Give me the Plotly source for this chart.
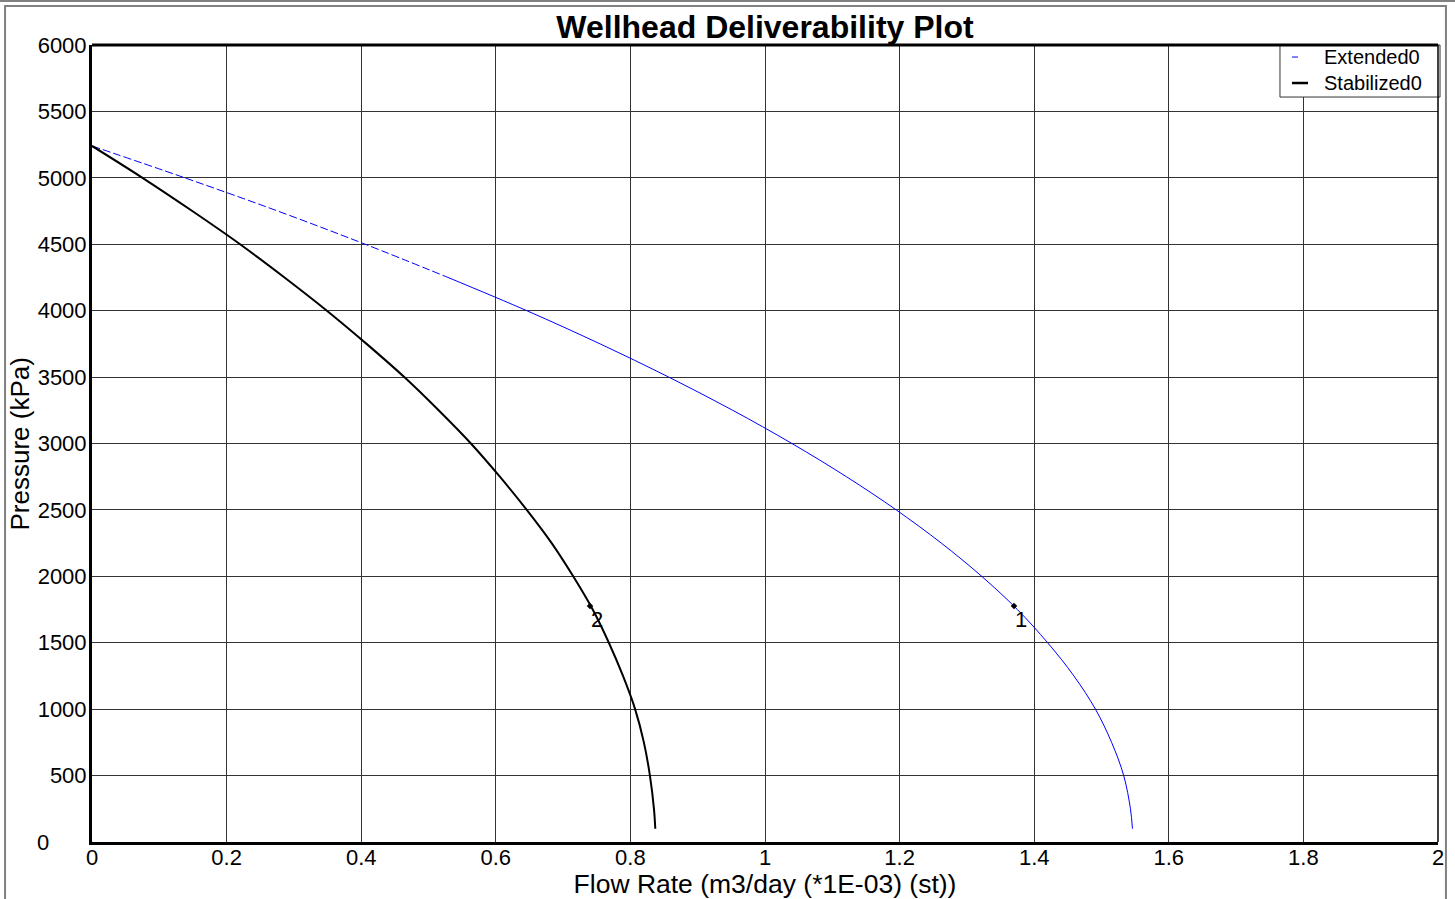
import plotly.graph_objects as go

pressure = [5240, 5000, 4750, 4500, 4250, 4000, 3750, 3500, 3250, 3000, 2750,
            2500, 2250, 2000, 1750, 1500, 1250, 1000, 750, 500, 250, 100]
# Stabilized0 flow rate (m3/day *1E-03)
stabilized_q = [0, 0.075, 0.149, 0.220, 0.286, 0.349, 0.408, 0.464, 0.515, 0.563, 0.606,
                0.646, 0.683, 0.715, 0.744, 0.768, 0.789, 0.807, 0.820, 0.829, 0.835, 0.837]
# Extended0 flow rate
extended_q = [0, 0.138, 0.276, 0.406, 0.529, 0.646, 0.755, 0.857, 0.952, 1.040, 1.121,
              1.195, 1.262, 1.322, 1.375, 1.420, 1.459, 1.491, 1.515, 1.533, 1.543, 1.546]

# Test points
point_q = [1.370, 0.740]
point_p = [1777, 1777]
point_labels = ["1", "2"]

series_names = ["Extended0", "Stabilized0"]
series_colors = ["#0000ff", "black"]

x_ticks = [0, 0.2, 0.4, 0.6, 0.8, 1, 1.2, 1.4, 1.6, 1.8, 2]
x_tick_labels = ["0", "0.2", "0.4", "0.6", "0.8", "1", "1.2", "1.4", "1.6", "1.8", "2"]
y_ticks = list(range(0, 6001, 500))
y_tick_labels = [""] + [str(v) for v in y_ticks[1:]]

FONT = "Liberation Sans, Arial, sans-serif"
split = 4  # index where dashed part of extended curve ends

fig = go.Figure()
fig.add_trace(go.Scatter(x=extended_q[:split + 1], y=pressure[:split + 1], mode="lines",
                         name=series_names[0], showlegend=False,
                         line=dict(color=series_colors[0], width=1, dash="8px,3px"),
                         line_shape="spline"))
fig.add_trace(go.Scatter(x=extended_q[split:], y=pressure[split:], mode="lines",
                         name=series_names[0], showlegend=False,
                         line=dict(color=series_colors[0], width=1), line_shape="spline"))
fig.add_trace(go.Scatter(x=stabilized_q, y=pressure, mode="lines", name=series_names[1],
                         showlegend=False,
                         line=dict(color=series_colors[1], width=2), line_shape="spline"))
fig.add_trace(go.Scatter(x=point_q, y=point_p, mode="markers", showlegend=False,
                         marker=dict(color="black", size=5, symbol="diamond")))
for q, p, t in zip(point_q, point_p, point_labels):
    fig.add_annotation(x=q, y=p, text=t, showarrow=False, xshift=7, yshift=-14,
                       font=dict(family=FONT, size=22, color="black"))

# y-axis "0" label (drawn further left in the reference)
fig.add_annotation(xref="paper", yref="y", x=-0.0364, y=0, text="0", showarrow=False,
                   xanchor="center", yanchor="middle", font=dict(family=FONT, size=22))

# outer panel frame
fig.add_shape(type="rect", xref="paper", yref="paper", x0=-0.0646, x1=1.0059,
              y0=-0.09, y1=1.0489, line=dict(color="#808080", width=2), layer="above")
fig.add_shape(type="line", xref="paper", yref="paper", x0=-0.08, x1=1.02,
              y0=1.0552, y1=1.0552, line=dict(color="#808080", width=2), layer="above")

# y-axis title
fig.add_annotation(xref="paper", yref="paper", x=-0.0535, y=0.5, text="Pressure (kPa)",
                   textangle=-90, showarrow=False, xanchor="center", yanchor="middle",
                   font=dict(family=FONT, size=26))

# legend box (manual)
fig.add_shape(type="rect", xref="paper", yref="paper", x0=0.8826, x1=1.0015,
              y0=0.9347, y1=1.0, line=dict(color="#333333", width=1), fillcolor="white",
              layer="above")
legend_rows = [0.9849, 0.9523]
fig.add_shape(type="line", xref="paper", yref="paper", x0=0.8915, x1=0.8960,
              y0=legend_rows[0], y1=legend_rows[0], line=dict(color=series_colors[0], width=1),
              layer="above")
fig.add_shape(type="line", xref="paper", yref="paper", x0=0.8915, x1=0.9034,
              y0=legend_rows[1], y1=legend_rows[1], line=dict(color=series_colors[1], width=2.5),
              layer="above")
for yy, name in zip(legend_rows, series_names):
    fig.add_annotation(xref="paper", yref="paper", x=0.9138, y=yy, text=name,
                       showarrow=False, xanchor="left", yanchor="middle",
                       font=dict(family=FONT, size=20, color="black"))

fig.update_layout(
    width=1455, height=899,
    margin=dict(l=92, r=17, t=45, b=57, autoexpand=False),
    paper_bgcolor="white", plot_bgcolor="white",
    font=dict(family=FONT, color="black"),
    title=dict(text="<b>Wellhead Deliverability Plot</b>", x=0.5, xanchor="center",
               xref="paper", y=0.970, yanchor="middle", font=dict(size=32, family=FONT)),
    showlegend=False,
    xaxis=dict(range=[0, 2], tickvals=x_ticks, ticktext=x_tick_labels,
               showgrid=True, gridcolor="#333333", gridwidth=1, zeroline=False,
               showline=True, linecolor="black", linewidth=3, mirror=False,
               ticks="", tickfont=dict(size=22, family=FONT), ticklabelstandoff=-6,
               title=dict(text="Flow Rate (m3/day (*1E-03) (st))", standoff=2,
                          font=dict(size=26.5, family=FONT))),
    yaxis=dict(range=[0, 6000], tickvals=y_ticks, ticktext=y_tick_labels,
               showgrid=True, gridcolor="#333333",
               gridwidth=1, zeroline=False, showline=True, linecolor="black", linewidth=3,
               ticks="", tickfont=dict(size=22, family=FONT), ticklabelstandoff=-2),
)
# right and top border of plot
fig.add_shape(type="line", xref="paper", yref="paper", x0=0, x1=1, y0=1, y1=1,
              line=dict(color="black", width=3))
fig.add_shape(type="line", xref="paper", yref="paper", x0=1, x1=1, y0=0, y1=1,
              line=dict(color="black", width=1.5))

fig.write_html("out.html", config={"displayModeBar": False},
               post_script="document.body.style.margin='0';document.body.style.overflow='hidden';")
